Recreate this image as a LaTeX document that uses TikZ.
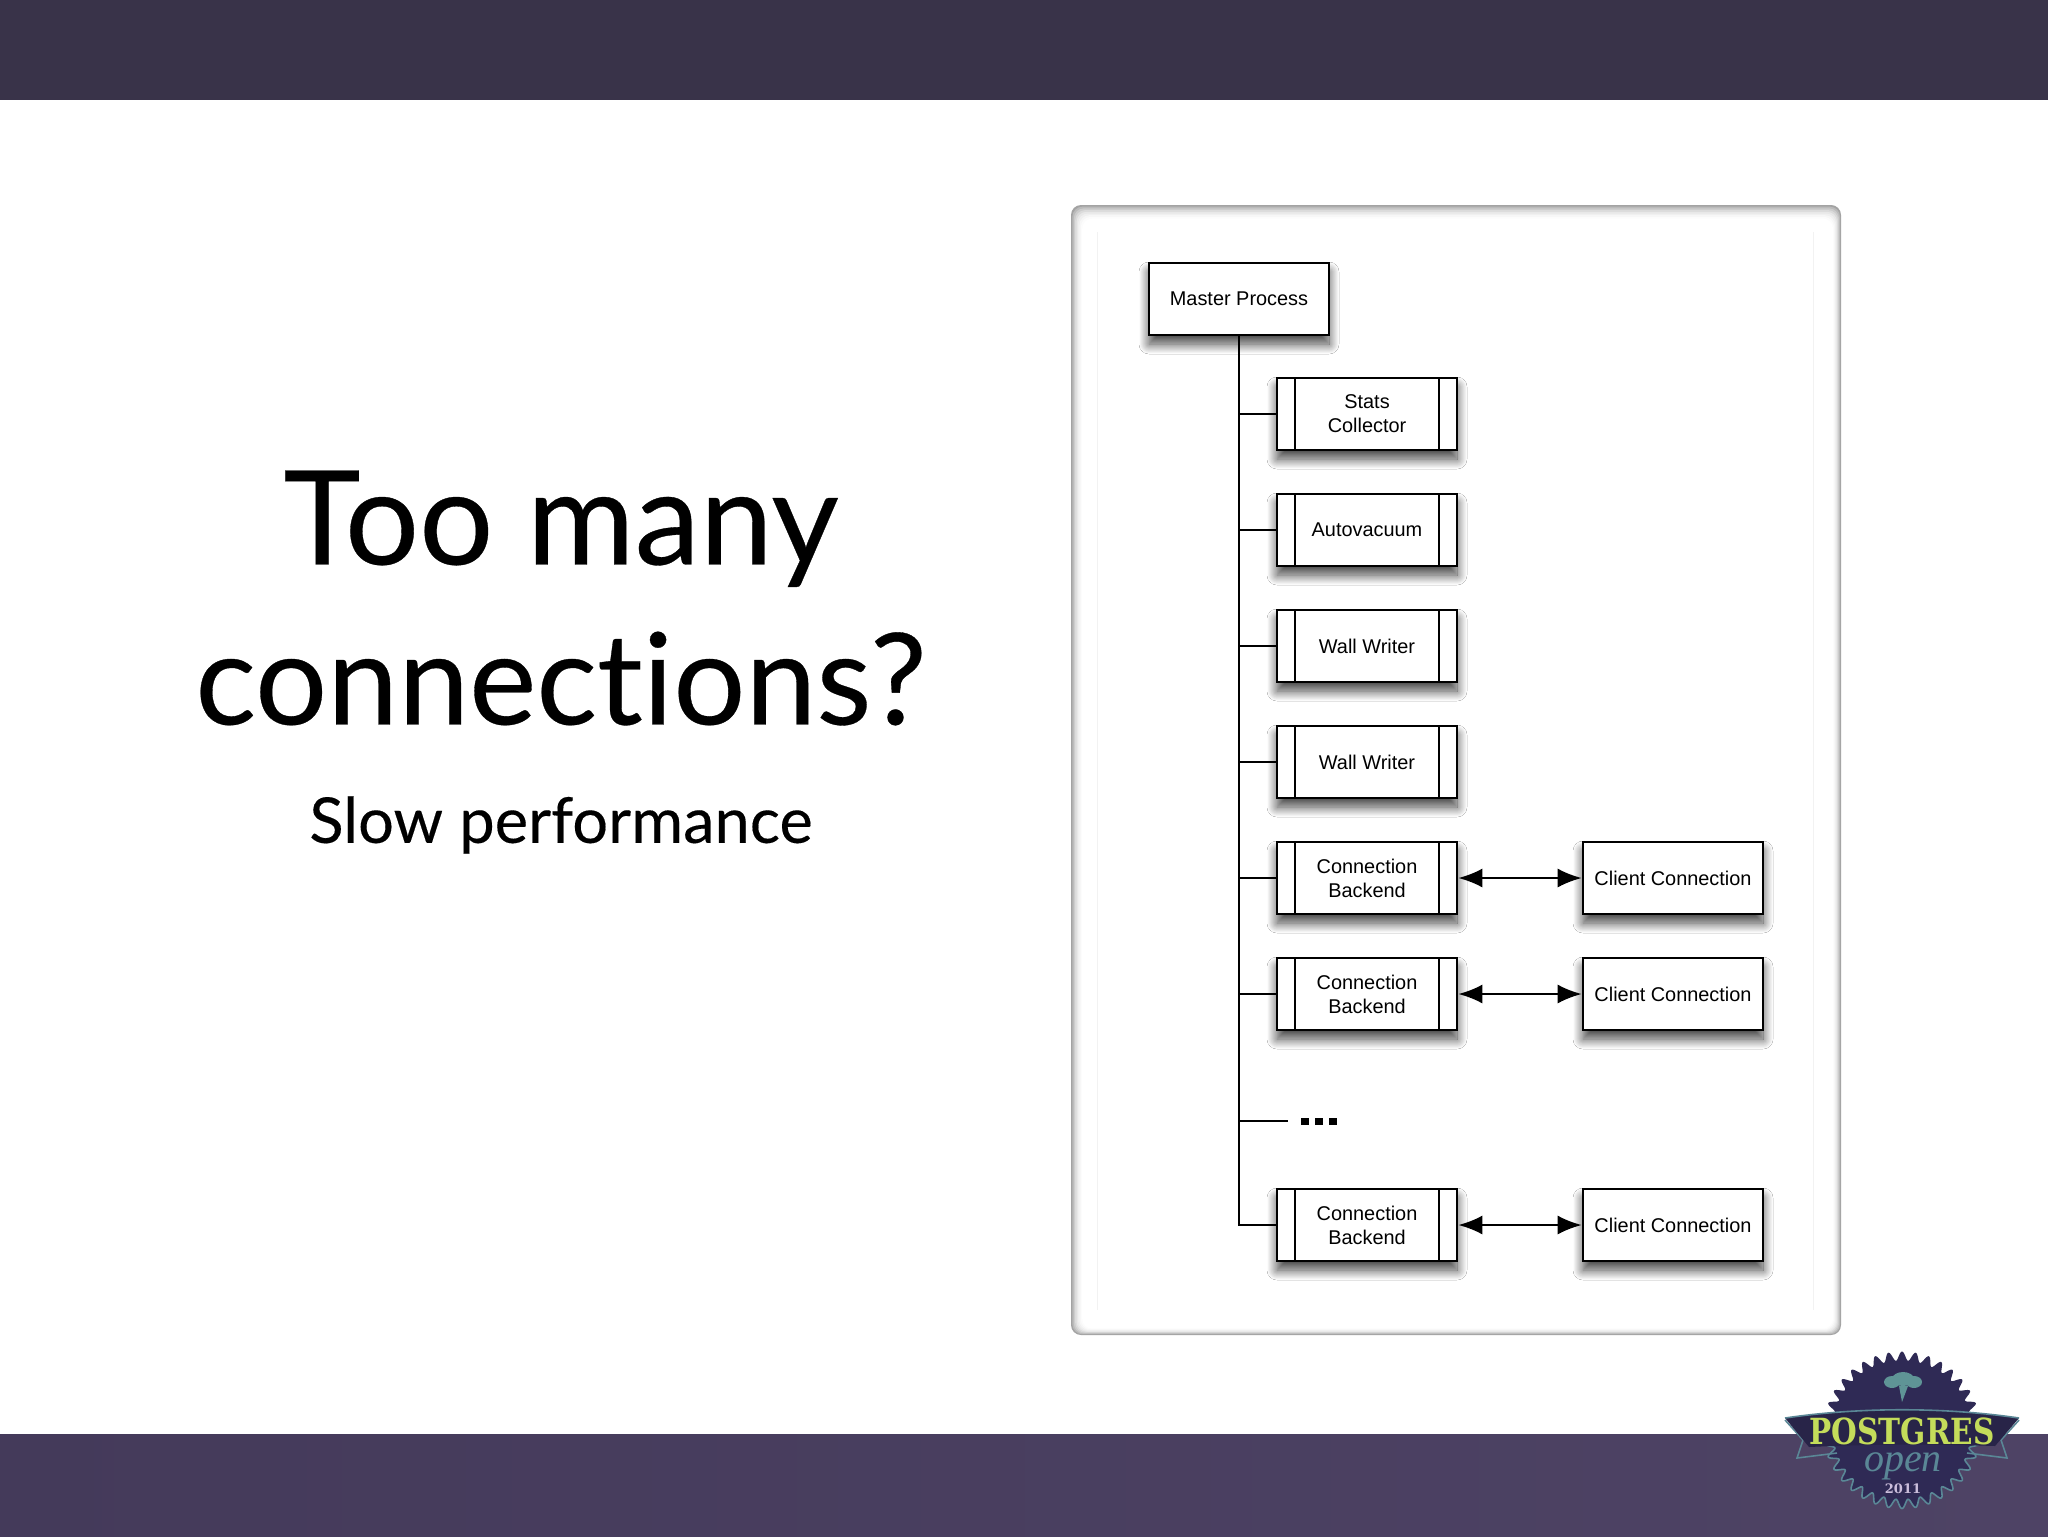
\documentclass[tikz,border=0pt]{standalone}
\usepackage{fontspec}
\setmainfont{Lato}[RawFeature=-liga,FakeBold=0.25]
\newfontfamily\boxfont{Liberation Sans}
\newfontfamily\badgefont{DejaVu Serif}
\newfontfamily\openfont{Liberation Serif}
\usetikzlibrary{arrows.meta,shadows.blur,calc}
\definecolor{topband}{HTML}{393349}
\definecolor{lowbandl}{HTML}{443A5A}
\definecolor{lowbandr}{HTML}{4E4365}
\definecolor{badgedark}{HTML}{2F2A55}
\definecolor{badgeteal}{HTML}{5A8796}
\definecolor{badgetree}{HTML}{5F9496}
\definecolor{badgegreen}{HTML}{C4DC5A}
\definecolor{badgelilac}{HTML}{CBBEDC}
\tikzset{
  softshadow/.style={blur shadow={shadow xshift=0pt,shadow yshift=-4.5pt,shadow blur radius=5pt,shadow blur steps=20,shadow opacity=75}},
  mainbox/.style={draw,line width=1.3pt,fill=white,softshadow,minimum width=90pt,minimum height=36pt,inner sep=0pt,align=center,font=\boxfont\fontsize{9.95}{12}\selectfont},
  procbox/.style={mainbox,path picture={
    \draw[line width=1.1pt] ([xshift=9pt]path picture bounding box.north west) -- ([xshift=9pt]path picture bounding box.south west);
    \draw[line width=1.1pt] ([xshift=-9pt]path picture bounding box.north east) -- ([xshift=-9pt]path picture bounding box.south east);}},
  link/.style={line width=1.1pt},
  bothway/.style={link,{Latex[length=12pt,width=9.5pt]}-{Latex[length=12pt,width=9.5pt]}}
}
\begin{document}
\begin{tikzpicture}[x=0.5pt,y=-0.5pt]
  \useasboundingbox (0,0) rectangle (2048,1536);
  \fill[white] (0,0) rectangle (2048,1536);
  \fill[topband] (0,0) rectangle (2048,100);
  \shade[left color=lowbandl,right color=lowbandr] (0,1434) rectangle (2048,1536);

  % title
  \node (title) at (561,598) [align=center,font=\fontsize{65.5}{80}\selectfont] {Too many\\\fontsize{63.6}{80}\selectfont connections?};
  \node (subtitle) at (561,825) [font=\fontsize{31.6}{38}\selectfont] {Slow performance};

  % panel
  \foreach \i/\c in {0/36,1/27,2/20,3/14,4/9,5/6,6/3,7/1,8/0}
    \fill[black!\c,rounded corners=5pt] (1071+1.4*\i,205+1.7*\i) rectangle (1841-1*\i,1335-0.8*\i);
  \draw[line width=0.5pt,draw=black!5] (1097,232) -- (1097,1310) (1813,232) -- (1813,1310);

  \node (master) at (1239,299) [mainbox] {Master Process};
  \node (stats) at (1367,414) [procbox] {Stats\\Collector};
  \node (autovac) at (1367,530) [procbox] {Autovacuum};
  \node (wall1) at (1367,646) [procbox] {Wall Writer};
  \node (wall2) at (1367,762) [procbox] {Wall Writer};
  \node (backend1) at (1367,878) [procbox] {Connection\\Backend};
  \node (backend2) at (1367,994) [procbox] {Connection\\Backend};
  \node (backend3) at (1367,1225) [procbox] {Connection\\Backend};
  \node (client1) at (1673,878) [mainbox] {Client Connection};
  \node (client2) at (1673,994) [mainbox] {Client Connection};
  \node (client3) at (1673,1225) [mainbox] {Client Connection};
  \coordinate (more) at (1288,1121);
  \coordinate (dots) at (1318.5,1121);
  \foreach \i in {-1,0,1}
    \fill ($(dots)+(\i*14,0)$) +(-4,-3.5) rectangle +(4,3.5);

  \draw[link] (master.south) -- (master.south |- backend3) -- (backend3.west);
  \foreach \n in {stats,autovac,wall1,wall2,backend1,backend2}
    \draw[link] (master.south |- \n) -- (\n.west);
  \draw[link] (master.south |- more) -- (more);
  \foreach \i in {1,2,3}
    \draw[bothway] (backend\i.east) -- (client\i.west);

  % badge
  \fill[badgedark] plot[samples=721,domain=0:360,variable=\t] ({1902+(74+4.5*cos(36*\t))*cos(\t)},{1430+(74+4.5*cos(36*\t))*sin(\t)}) -- cycle;
  \draw[badgeteal,line width=0.8pt] plot[samples=301,domain=8:172,variable=\t] ({1902+(74+4.5*cos(36*\t))*cos(\t)},{1430+(74+4.5*cos(36*\t))*sin(\t)});
  \fill[badgetree] (1903,1379) ellipse (11 and 7) (1892,1382) ellipse (8 and 6) (1914,1382) ellipse (8 and 6) (1899,1386) -- (1908,1386) -- (1902,1402) -- cycle;
  \draw[badgeteal,line width=0.8pt] (1785,1420) -- (1803,1440) -- (1797,1458) -- (1837,1453) (2019,1420) -- (2001,1440) -- (2007,1458) -- (1967,1453);
  \fill[badgedark!85!black] (1785,1418) .. controls (1860,1407) and (1944,1407) .. (2019,1418) -- (1995,1446) .. controls (1930,1444) and (1874,1444) .. (1809,1447) -- cycle;
  \draw[badgeteal,line width=0.8pt] (1785,1418) .. controls (1860,1407) and (1944,1407) .. (2019,1418);
  \node (postgres) at (1902,1431) [font=\badgefont\bfseries\fontsize{18}{24}\selectfont,text=badgegreen,inner sep=0pt,xscale=0.82,transform shape] {POSTGRES};
  \node (open) at (1903,1471) [anchor=base,font=\openfont\itshape\fontsize{20}{21}\selectfont,text=badgeteal,inner sep=0pt] {open};
  \node (year) at (1903,1489) [font=\badgefont\bfseries\fontsize{6.5}{9}\selectfont,text=badgelilac,inner sep=0pt] {2011};
\end{tikzpicture}
\end{document}
